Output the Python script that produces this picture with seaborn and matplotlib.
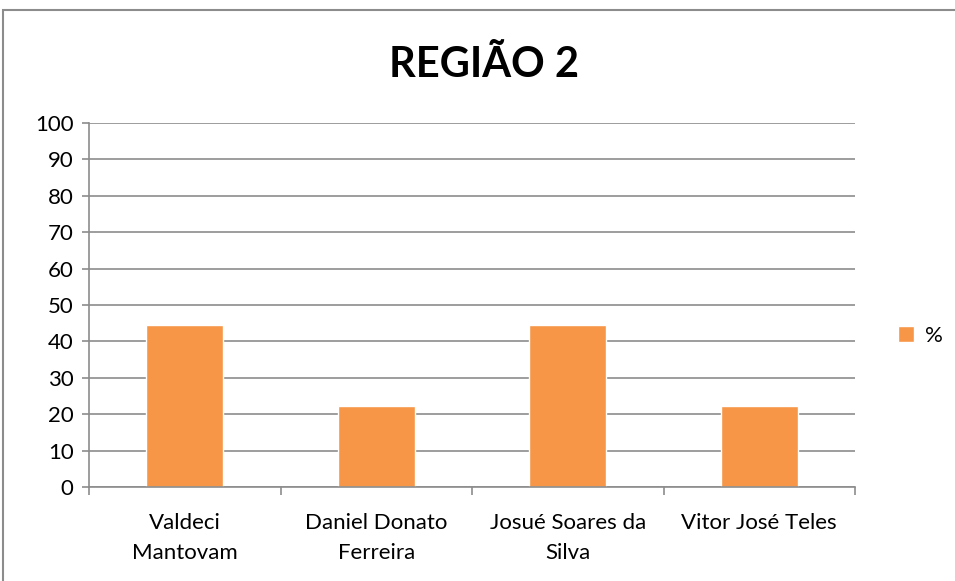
import pandas as pd
import numpy as np
import seaborn as sns
import matplotlib
import matplotlib.pyplot as plt
from matplotlib.patches import Rectangle

candidatos = ['Valdeci\nMantovam', 'Daniel Donato\nFerreira', 'Josué Soares da\nSilva', 'Vitor José Teles']
percentuais = [44.4, 22.2, 44.4, 22.2]
yticks = list(range(0, 101, 10))

sns.set_style('white')
plt.rcParams['font.family'] = ['Lato', 'DejaVu Sans']
plt.rcParams['text.color'] = 'black'
plt.rcParams['xtick.color'] = 'black'
plt.rcParams['ytick.color'] = 'black'

df = pd.DataFrame({'Candidato': candidatos, '%': percentuais})

fig = plt.figure(figsize=(9.55, 5.81), dpi=100)
ax = fig.add_axes([0.0932, 0.1618, 0.8021, 0.6265])

sns.barplot(data=df, x='Candidato', y='%', color='#f79646', width=0.4,
            saturation=1, label='%', ax=ax)

ax.set_ylim(0, 100)
ax.set_xlim(-0.5, len(candidatos) - 0.5)
ax.set_yticks(yticks)
ax.yaxis.grid(True, color='#8c8c8c', linewidth=1.2)
ax.set_axisbelow(True)
ax.set_xlabel('')
ax.set_ylabel('')

for s in ['top', 'right']:
    ax.spines[s].set_visible(False)
for s in ['left', 'bottom']:
    ax.spines[s].set_color('#8c8c8c')
    ax.spines[s].set_linewidth(1.2)

# ticks on the category borders, like excel
ax.set_xticks(np.arange(-0.5, len(candidatos), 1), minor=True)
ax.tick_params(axis='x', which='major', bottom=True, length=0, labelsize=16, pad=19, labelcolor='black')
ax.tick_params(axis='x', which='minor', bottom=True, length=6, color='#8c8c8c', width=1.2, direction='out')
ax.tick_params(axis='y', left=True, length=5, color='#8c8c8c', width=1.2, direction='out',
               labelsize=16, pad=6, labelcolor='black')
for lbl in ax.get_xticklabels():
    lbl.set_linespacing(1.6)

fig.suptitle('REGIÃO 2', x=0.507, y=0.92, fontsize=30, fontweight='bold', color='black')

ax.legend(loc='center left', bbox_to_anchor=(1.03, 0.415), frameon=False,
          fontsize=16, handlelength=0.7, handleheight=0.7, handletextpad=0.5)

fig.patches.append(Rectangle((0.003, -0.02), 1.2, 1.0 - 0.0172 + 0.02,
                             transform=fig.transFigure, fill=False,
                             edgecolor='#8c8c8c', linewidth=1.5))

fig.savefig('out.png', dpi=100)
